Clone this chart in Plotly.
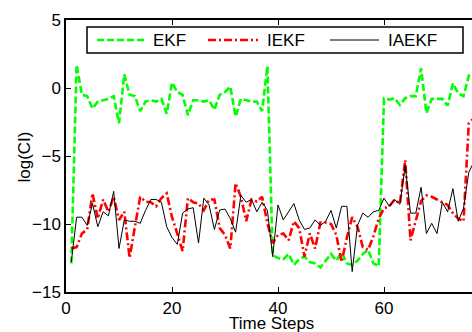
import plotly.graph_objects as go

steps = list(range(1, 78))

ekf = [-12.9, 1.7, -0.5, -0.6, -1.5, -1.0, -0.9, -0.8, -0.6, -2.6,
       1.0, -0.5, -0.6, -1.7, -1.0, -0.9, -1.0, -0.8, -1.9, 0.4,
       -0.3, -0.5, -2.0, -0.9, -0.9, -1.0, -0.9, -1.6, -0.5, -0.3,
       0.1, -2.1, -0.8, -0.9, -1.0, -1.0, -1.7, 1.6, -12.3, -12.5,
       -12.6, -12.2, -13.0, -12.6, -12.4, -12.8, -12.9, -13.2, -12.7, -12.2,
       -12.7, -12.1, -12.9, -13.0, -12.7, -12.2, -11.9, -12.9, -13.1, -0.76,
       -0.85, -0.75, -1.25, -0.75, -0.6, -0.6, 1.45, -1.85, -0.8, -0.8,
       -0.8, -1.3, 0.35, -0.4, -0.6, 0.9, 1.2]

iekf = [-11.8, -11.7, -10.7, -10.4, -7.75, -9.6, -8.2, -9.1, -8.0, -9.7,
        -9.1, -12.5, -10.2, -8.0, -8.35, -8.4, -8.7, -8.1, -7.75, -9.5,
        -10.7, -12.0, -8.1, -8.4, -8.5, -9.0, -8.2, -8.2, -10.3, -10.8,
        -11.8, -7.0, -8.0, -9.8, -8.2, -8.35, -8.0, -9.95, -11.4, -10.8,
        -10.7, -11.2, -9.8, -10.3, -12.4, -10.7, -11.8, -9.9, -9.9, -10.0,
        -10.8, -12.8, -11.0, -9.5, -10.2, -11.7, -11.9, -10.9, -9.6, -8.85,
        -8.7, -8.2, -8.5, -5.3, -11.2, -9.7, -8.3, -7.9, -8.0, -8.2,
        -8.4, -8.6, -9.2, -9.6, -9.8, -2.6, -2.2]

iaekf = [-12.8, -9.5, -9.5, -10.1, -8.5, -10.2, -9.1, -9.4, -7.6, -11.8,
         -9.7, -9.8, -9.8, -9.95, -9.0, -8.2, -8.2, -8.4, -10.2, -11.0,
         -11.5, -9.2, -8.9, -8.8, -11.4, -8.1, -8.6, -10.4, -8.97, -8.9,
         -9.6, -10.6, -7.9, -8.4, -8.2, -9.1, -8.4, -9.0, -12.4, -8.6,
         -9.7, -9.1, -8.5, -9.7, -10.4, -10.3, -9.7, -10.1, -9.8, -9.0,
         -10.3, -8.7, -8.7, -13.5, -10.1, -9.2, -9.5, -9.1, -9.0, -8.1,
         -8.7, -8.2, -8.55, -5.7, -9.2, -9.2, -7.3, -10.7, -9.95, -10.7,
         -8.4, -9.1, -7.4, -9.8, -8.85, -6.2, -5.4]

x_ticks = [0, 20, 40, 60, 80]
y_ticks = [-15, -10, -5, 0, 5]

GREEN = "#00ff00"
RED = "#ff0000"
BLACK = "#000000"
FONT = "Liberation Sans, Arial, sans-serif"
DASH_G = "7px,3px"
DASH_R = "8px,3px,2px,3px"

fig = go.Figure()
fig.add_trace(go.Scatter(x=steps, y=ekf, mode="lines", name="EKF",
                         line=dict(color=GREEN, width=2.6, dash=DASH_G)))
fig.add_trace(go.Scatter(x=steps, y=iekf, mode="lines", name="IEKF",
                         line=dict(color=RED, width=2.6, dash=DASH_R)))
fig.add_trace(go.Scatter(x=steps, y=iaekf, mode="lines", name="IAEKF",
                         line=dict(color=BLACK, width=1)))

L, T, B = 66, 20, 40
W, H = 472, 332
PW, PH = W - L, H - T - B


def px(x):
    return (x - L) / PW


def py(y):
    return (T + PH - y) / PH


shapes = [
    dict(type="rect", xref="paper", yref="paper", x0=px(87), x1=px(463),
         y0=py(53), y1=py(27), line=dict(color="black", width=1.5),
         fillcolor="white", layer="above"),
]
legend_items = [("EKF", GREEN, 2.6, DASH_G, 97, 147, 151),
                ("IEKF", RED, 2.6, DASH_R, 208, 258, 265),
                ("IAEKF", BLACK, 1, "solid", 330, 379, 386)]
annotations = []
for name, col, w, dash, a, b, t in legend_items:
    shapes.append(dict(type="line", xref="paper", yref="paper", x0=px(a), x1=px(b),
                       y0=py(40), y1=py(40), line=dict(color=col, width=w, dash=dash),
                       layer="above"))
    annotations.append(dict(xref="paper", yref="paper", x=px(t), y=py(40.5),
                            xanchor="left", yanchor="middle", text=name, showarrow=False,
                            font=dict(family=FONT, size=17, color="black")))

annotations.append(dict(xref="paper", yref="paper", x=px(271.5), y=py(323),
                        xanchor="center", yanchor="middle", text="Time Steps",
                        showarrow=False, font=dict(family=FONT, size=17, color="black")))
annotations.append(dict(xref="paper", yref="paper", x=px(23.5), y=py(157),
                        xanchor="center", yanchor="middle", text="log(CI)", textangle=-90,
                        showarrow=False, font=dict(family=FONT, size=17, color="black")))

fig.update_layout(
    width=W, height=H,
    margin=dict(l=L, r=0, t=T, b=B, pad=0),
    paper_bgcolor="white", plot_bgcolor="white",
    showlegend=False,
    font=dict(family=FONT, size=17, color="black"),
    shapes=shapes, annotations=annotations,
    xaxis=dict(range=[0, PW / 5.3], tickvals=x_ticks, ticks="inside", ticklen=5,
               tickwidth=1, tickcolor="black", showline=True, linecolor="black",
               linewidth=1.5, mirror="ticks", showgrid=False, zeroline=False,
               tickfont=dict(family=FONT, size=17, color="black")),
    yaxis=dict(range=[-15, 5], tickvals=y_ticks, ticks="inside", ticklen=5,
               tickwidth=1, tickcolor="black", showline=True, linecolor="black",
               linewidth=1.5, mirror=False, showgrid=False, zeroline=False,
               tickfont=dict(family=FONT, size=17, color="black")),
)

fig.write_html("out.html")
